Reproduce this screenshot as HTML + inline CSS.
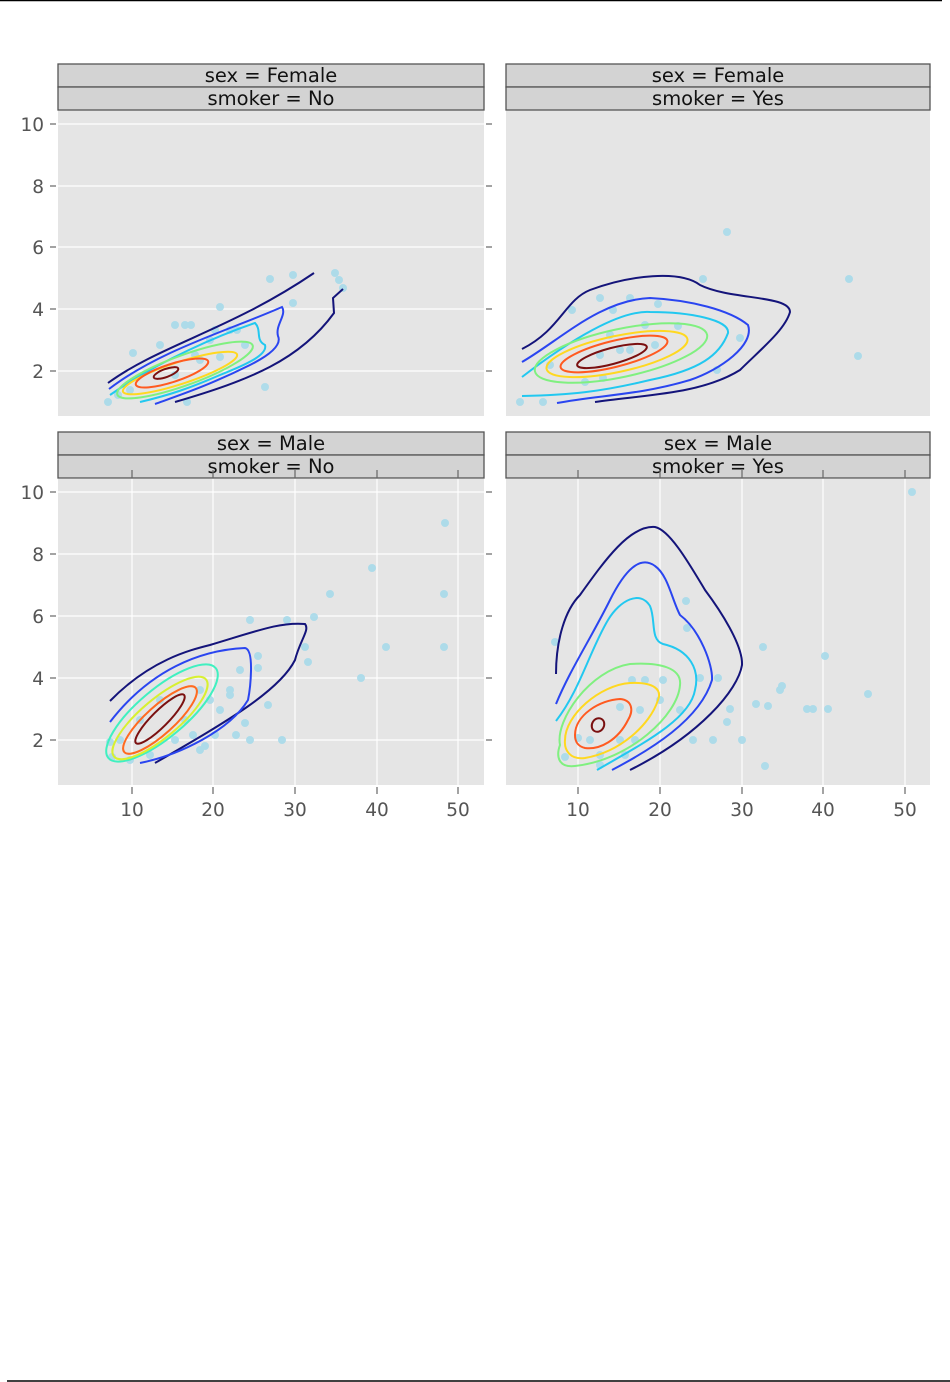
<!DOCTYPE html>
<html><head><meta charset="utf-8"><style>
html,body{margin:0;padding:0;background:#fff}
svg{display:block}
text{font-family:"DejaVu Sans","Liberation Sans",sans-serif}
</style></head><body>
<svg width="950" height="1382" viewBox="0 0 950 1382" xmlns="http://www.w3.org/2000/svg">
<line x1="0" y1="0.5" x2="942" y2="0.5" stroke="#000" stroke-width="1.5"/>
<line x1="7" y1="1381" x2="950" y2="1381" stroke="#000" stroke-width="1.5"/>

<rect x="58" y="110" width="426" height="306" fill="#e5e5e5"/>
<rect x="506" y="110" width="424" height="306" fill="#e5e5e5"/>
<rect x="58" y="479" width="426" height="306" fill="#e5e5e5"/>
<rect x="506" y="479" width="424" height="306" fill="#e5e5e5"/>

<g stroke="#fff" stroke-width="1.2">
<line x1="58" x2="484" y1="371" y2="371"/><line x1="58" x2="484" y1="309" y2="309"/><line x1="58" x2="484" y1="247" y2="247"/><line x1="58" x2="484" y1="186" y2="186"/><line x1="58" x2="484" y1="124" y2="124"/>
<line x1="58" x2="484" y1="740" y2="740"/><line x1="58" x2="484" y1="678" y2="678"/><line x1="58" x2="484" y1="616" y2="616"/><line x1="58" x2="484" y1="554" y2="554"/><line x1="58" x2="484" y1="492" y2="492"/>
<line x1="132" x2="132" y1="479" y2="785"/><line x1="213" x2="213" y1="479" y2="785"/><line x1="295" x2="295" y1="479" y2="785"/><line x1="377" x2="377" y1="479" y2="785"/><line x1="458" x2="458" y1="479" y2="785"/>
<line x1="578" x2="578" y1="479" y2="785"/><line x1="660" x2="660" y1="479" y2="785"/><line x1="742" x2="742" y1="479" y2="785"/><line x1="823" x2="823" y1="479" y2="785"/><line x1="905" x2="905" y1="479" y2="785"/>
</g>

<g fill="#d3d3d3" stroke="#555" stroke-width="1.3">
<rect x="58" y="64" width="426" height="23"/><rect x="58" y="87" width="426" height="23"/>
<rect x="506" y="64" width="424" height="23"/><rect x="506" y="87" width="424" height="23"/>
<rect x="58" y="432" width="426" height="23"/><rect x="58" y="455" width="426" height="23"/>
<rect x="506" y="432" width="424" height="23"/><rect x="506" y="455" width="424" height="23"/>
</g>
<g font-size="19.5" fill="#111" text-anchor="middle">
<text x="271" y="82">sex = Female</text><text x="271" y="105">smoker = No</text>
<text x="718" y="82">sex = Female</text><text x="718" y="105">smoker = Yes</text>
<text x="271" y="450">sex = Male</text><text x="271" y="473">smoker = No</text>
<text x="718" y="450">sex = Male</text><text x="718" y="473">smoker = Yes</text>
</g>

<g stroke="#666" stroke-width="1.2">
<line x1="50" x2="56" y1="124" y2="124"/><line x1="50" x2="56" y1="186" y2="186"/><line x1="50" x2="56" y1="247" y2="247"/><line x1="50" x2="56" y1="309" y2="309"/><line x1="50" x2="56" y1="371" y2="371"/>
<line x1="486" x2="492" y1="124" y2="124"/><line x1="486" x2="492" y1="186" y2="186"/><line x1="486" x2="492" y1="247" y2="247"/><line x1="486" x2="492" y1="309" y2="309"/><line x1="486" x2="492" y1="371" y2="371"/>
<line x1="50" x2="56" y1="492" y2="492"/><line x1="50" x2="56" y1="554" y2="554"/><line x1="50" x2="56" y1="616" y2="616"/><line x1="50" x2="56" y1="678" y2="678"/><line x1="50" x2="56" y1="740" y2="740"/>
<line x1="486" x2="492" y1="492" y2="492"/><line x1="486" x2="492" y1="554" y2="554"/><line x1="486" x2="492" y1="616" y2="616"/><line x1="486" x2="492" y1="678" y2="678"/><line x1="486" x2="492" y1="740" y2="740"/>
<line x1="132" x2="132" y1="787" y2="794"/><line x1="213" x2="213" y1="787" y2="794"/><line x1="295" x2="295" y1="787" y2="794"/><line x1="377" x2="377" y1="787" y2="794"/><line x1="458" x2="458" y1="787" y2="794"/>
<line x1="578" x2="578" y1="787" y2="794"/><line x1="660" x2="660" y1="787" y2="794"/><line x1="742" x2="742" y1="787" y2="794"/><line x1="823" x2="823" y1="787" y2="794"/><line x1="905" x2="905" y1="787" y2="794"/>
<line x1="132" x2="132" y1="470" y2="478"/><line x1="213" x2="213" y1="470" y2="478"/><line x1="295" x2="295" y1="470" y2="478"/><line x1="377" x2="377" y1="470" y2="478"/><line x1="458" x2="458" y1="470" y2="478"/>
<line x1="578" x2="578" y1="470" y2="478"/><line x1="660" x2="660" y1="470" y2="478"/><line x1="742" x2="742" y1="470" y2="478"/><line x1="823" x2="823" y1="470" y2="478"/><line x1="905" x2="905" y1="470" y2="478"/>
</g>
<g font-size="18.5" fill="#555" text-anchor="end">
<text x="44" y="131">10</text><text x="44" y="193">8</text><text x="44" y="254">6</text><text x="44" y="316">4</text><text x="44" y="378">2</text>
<text x="44" y="499">10</text><text x="44" y="561">8</text><text x="44" y="623">6</text><text x="44" y="685">4</text><text x="44" y="747">2</text>
</g>
<g font-size="18.5" fill="#555" text-anchor="middle">
<text x="132" y="816">10</text><text x="213" y="816">20</text><text x="295" y="816">30</text><text x="377" y="816">40</text><text x="458" y="816">50</text>
<text x="578" y="816">10</text><text x="660" y="816">20</text><text x="742" y="816">30</text><text x="823" y="816">40</text><text x="905" y="816">50</text>
</g>

<g fill="#a8daea" opacity="0.9">
<circle cx="133" cy="353" r="4"/><circle cx="108" cy="402" r="4"/><circle cx="187" cy="402" r="4"/><circle cx="220" cy="307" r="4"/><circle cx="191" cy="325" r="4"/><circle cx="185" cy="325" r="4"/><circle cx="270" cy="279" r="4"/><circle cx="293" cy="275" r="4"/><circle cx="335" cy="273" r="4"/><circle cx="339" cy="280" r="4"/><circle cx="343" cy="288" r="4"/><circle cx="293" cy="303" r="4"/><circle cx="265" cy="387" r="4"/><circle cx="220" cy="357" r="4"/><circle cx="237" cy="330" r="4"/><circle cx="245" cy="345" r="4"/><circle cx="175" cy="325" r="4"/><circle cx="210" cy="340" r="4"/><circle cx="230" cy="330" r="4"/><circle cx="118" cy="395" r="4"/><circle cx="130" cy="390" r="4"/><circle cx="200" cy="360" r="4"/><circle cx="215" cy="330" r="4"/><circle cx="160" cy="345" r="4"/><circle cx="175" cy="375" r="4"/><circle cx="195" cy="355" r="4"/>
<circle cx="727" cy="232" r="4"/><circle cx="849" cy="279" r="4"/><circle cx="858" cy="356" r="4"/><circle cx="703" cy="279" r="4"/><circle cx="740" cy="338" r="4"/><circle cx="717" cy="370" r="4"/><circle cx="658" cy="304" r="4"/><circle cx="630" cy="298" r="4"/><circle cx="613" cy="310" r="4"/><circle cx="520" cy="402" r="4"/><circle cx="543" cy="402" r="4"/><circle cx="600" cy="298" r="4"/><circle cx="572" cy="310" r="4"/><circle cx="655" cy="345" r="4"/><circle cx="678" cy="326" r="4"/><circle cx="645" cy="325" r="4"/><circle cx="610" cy="335" r="4"/><circle cx="630" cy="350" r="4"/><circle cx="600" cy="355" r="4"/><circle cx="585" cy="382" r="4"/><circle cx="550" cy="365" r="4"/><circle cx="620" cy="350" r="4"/><circle cx="603" cy="378" r="4"/>
<circle cx="445" cy="523" r="4"/><circle cx="372" cy="568" r="4"/><circle cx="330" cy="594" r="4"/><circle cx="444" cy="594" r="4"/><circle cx="386" cy="647" r="4"/><circle cx="444" cy="647" r="4"/><circle cx="361" cy="678" r="4"/><circle cx="314" cy="617" r="4"/><circle cx="305" cy="647" r="4"/><circle cx="308" cy="662" r="4"/><circle cx="287" cy="620" r="4"/><circle cx="250" cy="620" r="4"/><circle cx="258" cy="656" r="4"/><circle cx="258" cy="668" r="4"/><circle cx="268" cy="705" r="4"/><circle cx="282" cy="740" r="4"/><circle cx="250" cy="740" r="4"/><circle cx="236" cy="735" r="4"/><circle cx="245" cy="723" r="4"/><circle cx="205" cy="746" r="4"/><circle cx="193" cy="735" r="4"/><circle cx="220" cy="710" r="4"/><circle cx="210" cy="700" r="4"/><circle cx="230" cy="695" r="4"/><circle cx="200" cy="690" r="4"/><circle cx="185" cy="720" r="4"/><circle cx="175" cy="740" r="4"/><circle cx="150" cy="755" r="4"/><circle cx="130" cy="760" r="4"/><circle cx="112" cy="757" r="4"/><circle cx="110" cy="742" r="4"/><circle cx="120" cy="740" r="4"/><circle cx="140" cy="720" r="4"/><circle cx="160" cy="700" r="4"/><circle cx="200" cy="750" r="4"/><circle cx="215" cy="735" r="4"/><circle cx="230" cy="690" r="4"/><circle cx="240" cy="670" r="4"/>
<circle cx="912" cy="492" r="4"/><circle cx="555" cy="642" r="4"/><circle cx="686" cy="601" r="4"/><circle cx="687" cy="628" r="4"/><circle cx="763" cy="647" r="4"/><circle cx="825" cy="656" r="4"/><circle cx="718" cy="678" r="4"/><circle cx="700" cy="678" r="4"/><circle cx="780" cy="690" r="4"/><circle cx="782" cy="686" r="4"/><circle cx="756" cy="704" r="4"/><circle cx="768" cy="706" r="4"/><circle cx="807" cy="709" r="4"/><circle cx="813" cy="709" r="4"/><circle cx="828" cy="709" r="4"/><circle cx="868" cy="694" r="4"/><circle cx="742" cy="740" r="4"/><circle cx="765" cy="766" r="4"/><circle cx="565" cy="757" r="4"/><circle cx="578" cy="738" r="4"/><circle cx="590" cy="740" r="4"/><circle cx="600" cy="755" r="4"/><circle cx="620" cy="740" r="4"/><circle cx="635" cy="740" r="4"/><circle cx="660" cy="700" r="4"/><circle cx="663" cy="680" r="4"/><circle cx="645" cy="680" r="4"/><circle cx="632" cy="680" r="4"/><circle cx="620" cy="707" r="4"/><circle cx="640" cy="710" r="4"/><circle cx="680" cy="710" r="4"/><circle cx="693" cy="740" r="4"/><circle cx="713" cy="740" r="4"/><circle cx="730" cy="709" r="4"/><circle cx="727" cy="722" r="4"/><circle cx="600" cy="765" r="4"/><circle cx="625" cy="755" r="4"/>
</g>

<g fill="none" stroke-width="2">
<path d="M108,383 C160,345 230,330 314,273" stroke="#14147a"/>
<path d="M175,402 C250,380 300,360 334,313 L333,298 L343,289" stroke="#14147a"/>
<path d="M109,389 C160,350 230,330 282,307 C287,315 275,325 278,336 C282,345 270,355 250,365 C210,385 180,395 155,404" stroke="#2a45f0"/>
<path d="M110,395 C160,360 220,335 255,323 C262,330 255,340 265,345 C268,355 245,365 220,375 C190,388 170,395 140,402" stroke="#22c8f0"/>
<ellipse cx="185" cy="370" rx="72" ry="15" transform="rotate(-20 185 370)" stroke="#80f080"/>
<ellipse cx="180" cy="373" rx="60" ry="11" transform="rotate(-18 180 373)" stroke="#ffd820"/>
<ellipse cx="172" cy="373" rx="38" ry="9" transform="rotate(-18 172 373)" stroke="#ff5a20"/>
<ellipse cx="166" cy="373" rx="13" ry="4" transform="rotate(-20 166 373)" stroke="#7a1010"/>
</g>
<g fill="none" stroke-width="2">
<path d="M522,349 C560,330 565,300 590,290 C630,275 680,270 700,285 C730,300 790,295 790,312 C785,330 760,350 740,370 C700,395 640,395 595,402" stroke="#14147a"/>
<path d="M522,362 C560,340 600,300 650,298 C690,300 730,310 748,325 C755,345 720,370 690,380 C640,395 600,395 557,403" stroke="#2a45f0"/>
<path d="M522,377 C570,340 620,310 650,312 C690,312 730,320 728,333 C720,355 700,370 650,380 C600,392 570,395 522,396" stroke="#22c8f0"/>
<ellipse cx="621" cy="353" rx="88" ry="24" transform="rotate(-12 621 353)" stroke="#80f080"/>
<ellipse cx="617" cy="354" rx="72" ry="18" transform="rotate(-12 617 354)" stroke="#ffd820"/>
<ellipse cx="614" cy="354" rx="55" ry="13" transform="rotate(-14 614 354)" stroke="#ff5a20"/>
<ellipse cx="612" cy="356" rx="36" ry="8" transform="rotate(-15 612 356)" stroke="#7a1010"/>
</g>
<g fill="none" stroke-width="2">
<path d="M110,701 C150,660 190,650 210,645 C260,630 280,622 305,624 C310,630 300,640 295,660 C280,690 230,720 155,763" stroke="#14147a"/>
<path d="M110,722 C150,670 200,650 245,648 C255,650 250,690 248,700 C230,730 180,755 140,763" stroke="#2a45f0"/>
<ellipse cx="162" cy="713" rx="70" ry="24" transform="rotate(-40 162 713)" stroke="#40f0c0"/>
<ellipse cx="160" cy="718" rx="60" ry="19" transform="rotate(-40 160 718)" stroke="#d8f030"/>
<ellipse cx="160" cy="720" rx="48" ry="14" transform="rotate(-42 160 720)" stroke="#ff6a20"/>
<ellipse cx="160" cy="719" rx="34" ry="8" transform="rotate(-45 160 719)" stroke="#7a1010"/>
</g>
<g fill="none" stroke-width="2">
<path d="M556,674 C556,640 565,610 580,595 C605,560 630,525 655,527 C670,530 690,565 705,590 C720,610 743,645 742,665 C738,690 700,735 630,770" stroke="#14147a"/>
<path d="M556,704 C570,670 590,640 610,600 C625,570 640,555 655,566 C668,575 672,600 680,615 C700,630 713,665 712,680 C700,720 650,750 612,770" stroke="#2a45f0"/>
<path d="M556,721 C580,690 590,650 608,620 C620,600 640,590 650,606 C656,620 650,640 663,644 C690,650 700,670 695,690 C690,720 640,745 597,770" stroke="#22c8f0"/>
<path d="M560,745 C555,720 590,670 630,664 C660,662 682,668 680,685 C678,715 630,760 575,766 C558,768 556,756 560,745 Z" stroke="#80f080"/>
<path d="M565,740 C565,715 600,685 630,683 C655,682 662,690 658,700 C650,725 620,752 585,758 C570,760 564,750 565,740 Z" stroke="#ffd820"/>
<path d="M575,735 C575,715 600,700 620,699 C632,700 634,710 628,720 C618,740 600,750 585,748 C577,746 575,741 575,735 Z" stroke="#ff5a20"/>
<ellipse cx="598" cy="725" rx="6" ry="7" transform="rotate(30 598 725)" stroke="#7a1010"/>
</g>
</svg>
</body></html>
